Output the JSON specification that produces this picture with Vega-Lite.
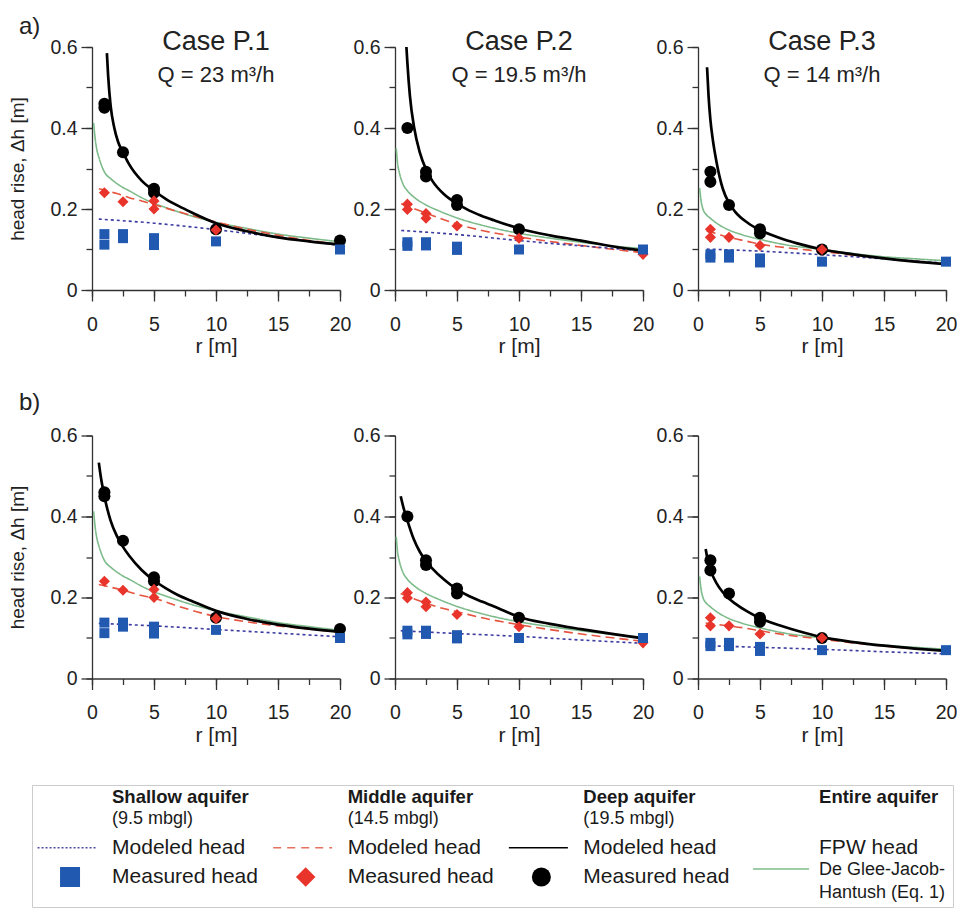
{
"$schema":"https://vega.github.io/schema/vega-lite/v6.json",
"background":"white",
"padding":{"left":8,"top":14,"right":0,"bottom":0},
"config":{
 "font":"Liberation Sans",
 "view":{"stroke":null},
 "axis":{"grid":false,"domainColor":"#333333","tickColor":"#333333","domainWidth":1.3,"tickWidth":1.3,"labelColor":"#222222","titleColor":"#222222","labelFontSize":19.5,"titleFontSize":19,"titleFontWeight":"normal","labelPadding":4,"labelFont":"Liberation Sans","titleFont":"Liberation Sans","labelFlush":false,"labelOverlap":false},
 "axisX":{"titlePadding":2,"titleFontSize":21,"labelPadding":14},
 "axisY":{"titlePadding":22},
 "title":{"font":"Liberation Sans","subtitleFont":"Liberation Sans","fontSize":27,"fontWeight":"normal","color":"#222222","subtitleFontSize":22,"subtitleColor":"#222222","subtitlePadding":9,"frame":"group","anchor":"middle","offset":-50},
 "text":{"font":"Liberation Sans","color":"#1a1a1a"}
},
"datasets":{
"measured":[
{"case":"P.1","aquifer":"Deep","r":1,"dh":0.46},
{"case":"P.1","aquifer":"Deep","r":1,"dh":0.45},
{"case":"P.1","aquifer":"Deep","r":2.5,"dh":0.34},
{"case":"P.1","aquifer":"Deep","r":5,"dh":0.25},
{"case":"P.1","aquifer":"Deep","r":5,"dh":0.24},
{"case":"P.1","aquifer":"Deep","r":10,"dh":0.15},
{"case":"P.1","aquifer":"Deep","r":20,"dh":0.122},
{"case":"P.2","aquifer":"Deep","r":1,"dh":0.4},
{"case":"P.2","aquifer":"Deep","r":2.5,"dh":0.292},
{"case":"P.2","aquifer":"Deep","r":2.5,"dh":0.28},
{"case":"P.2","aquifer":"Deep","r":5,"dh":0.222},
{"case":"P.2","aquifer":"Deep","r":5,"dh":0.21},
{"case":"P.2","aquifer":"Deep","r":10,"dh":0.15},
{"case":"P.3","aquifer":"Deep","r":1,"dh":0.292},
{"case":"P.3","aquifer":"Deep","r":1,"dh":0.267},
{"case":"P.3","aquifer":"Deep","r":2.5,"dh":0.21},
{"case":"P.3","aquifer":"Deep","r":5,"dh":0.15},
{"case":"P.3","aquifer":"Deep","r":5,"dh":0.14},
{"case":"P.3","aquifer":"Deep","r":10,"dh":0.1},
{"case":"P.1","aquifer":"Middle","r":1,"dh":0.24},
{"case":"P.1","aquifer":"Middle","r":2.5,"dh":0.218},
{"case":"P.1","aquifer":"Middle","r":5,"dh":0.22},
{"case":"P.1","aquifer":"Middle","r":5,"dh":0.2},
{"case":"P.1","aquifer":"Middle","r":10,"dh":0.148},
{"case":"P.2","aquifer":"Middle","r":1,"dh":0.212},
{"case":"P.2","aquifer":"Middle","r":1,"dh":0.199},
{"case":"P.2","aquifer":"Middle","r":2.5,"dh":0.189},
{"case":"P.2","aquifer":"Middle","r":2.5,"dh":0.177},
{"case":"P.2","aquifer":"Middle","r":5,"dh":0.158},
{"case":"P.2","aquifer":"Middle","r":10,"dh":0.128},
{"case":"P.2","aquifer":"Middle","r":20,"dh":0.088},
{"case":"P.3","aquifer":"Middle","r":1,"dh":0.15},
{"case":"P.3","aquifer":"Middle","r":1,"dh":0.13},
{"case":"P.3","aquifer":"Middle","r":2.5,"dh":0.13},
{"case":"P.3","aquifer":"Middle","r":5,"dh":0.11},
{"case":"P.3","aquifer":"Middle","r":10,"dh":0.1},
{"case":"P.1","aquifer":"Shallow","r":1,"dh":0.138},
{"case":"P.1","aquifer":"Shallow","r":1,"dh":0.112},
{"case":"P.1","aquifer":"Shallow","r":2.5,"dh":0.138},
{"case":"P.1","aquifer":"Shallow","r":2.5,"dh":0.128},
{"case":"P.1","aquifer":"Shallow","r":5,"dh":0.128},
{"case":"P.1","aquifer":"Shallow","r":5,"dh":0.111},
{"case":"P.1","aquifer":"Shallow","r":10,"dh":0.12},
{"case":"P.1","aquifer":"Shallow","r":20,"dh":0.1},
{"case":"P.2","aquifer":"Shallow","r":1,"dh":0.118},
{"case":"P.2","aquifer":"Shallow","r":1,"dh":0.109},
{"case":"P.2","aquifer":"Shallow","r":2.5,"dh":0.118},
{"case":"P.2","aquifer":"Shallow","r":2.5,"dh":0.11},
{"case":"P.2","aquifer":"Shallow","r":5,"dh":0.107},
{"case":"P.2","aquifer":"Shallow","r":5,"dh":0.099},
{"case":"P.2","aquifer":"Shallow","r":10,"dh":0.1},
{"case":"P.2","aquifer":"Shallow","r":20,"dh":0.1},
{"case":"P.3","aquifer":"Shallow","r":1,"dh":0.088},
{"case":"P.3","aquifer":"Shallow","r":1,"dh":0.08},
{"case":"P.3","aquifer":"Shallow","r":2.5,"dh":0.088},
{"case":"P.3","aquifer":"Shallow","r":2.5,"dh":0.08},
{"case":"P.3","aquifer":"Shallow","r":5,"dh":0.078},
{"case":"P.3","aquifer":"Shallow","r":5,"dh":0.068},
{"case":"P.3","aquifer":"Shallow","r":10,"dh":0.07},
{"case":"P.3","aquifer":"Shallow","r":20,"dh":0.07}
],
"model":[
{"row":"both","case":"P.1","curve":"FPW","r":0.13,"dh":0.413},
{"row":"both","case":"P.1","curve":"FPW","r":0.27,"dh":0.37},
{"row":"both","case":"P.1","curve":"FPW","r":0.4,"dh":0.345},
{"row":"both","case":"P.1","curve":"FPW","r":0.55,"dh":0.328},
{"row":"both","case":"P.1","curve":"FPW","r":0.8,"dh":0.305},
{"row":"both","case":"P.1","curve":"FPW","r":1.07,"dh":0.288},
{"row":"both","case":"P.1","curve":"FPW","r":1.5,"dh":0.275},
{"row":"both","case":"P.1","curve":"FPW","r":2,"dh":0.263},
{"row":"both","case":"P.1","curve":"FPW","r":2.5,"dh":0.253},
{"row":"both","case":"P.1","curve":"FPW","r":3,"dh":0.245},
{"row":"both","case":"P.1","curve":"FPW","r":4,"dh":0.228},
{"row":"both","case":"P.1","curve":"FPW","r":5,"dh":0.214},
{"row":"both","case":"P.1","curve":"FPW","r":6,"dh":0.203},
{"row":"both","case":"P.1","curve":"FPW","r":8,"dh":0.183},
{"row":"both","case":"P.1","curve":"FPW","r":10,"dh":0.167},
{"row":"both","case":"P.1","curve":"FPW","r":12.5,"dh":0.152},
{"row":"both","case":"P.1","curve":"FPW","r":15,"dh":0.138},
{"row":"both","case":"P.1","curve":"FPW","r":17.5,"dh":0.128},
{"row":"both","case":"P.1","curve":"FPW","r":20,"dh":0.119},
{"row":"a","case":"P.1","curve":"Middle","r":0.55,"dh":0.25},
{"row":"a","case":"P.1","curve":"Middle","r":1,"dh":0.247},
{"row":"a","case":"P.1","curve":"Middle","r":2,"dh":0.238},
{"row":"a","case":"P.1","curve":"Middle","r":3,"dh":0.228},
{"row":"a","case":"P.1","curve":"Middle","r":4,"dh":0.22},
{"row":"a","case":"P.1","curve":"Middle","r":5,"dh":0.211},
{"row":"a","case":"P.1","curve":"Middle","r":7,"dh":0.193},
{"row":"a","case":"P.1","curve":"Middle","r":10,"dh":0.168},
{"row":"a","case":"P.1","curve":"Middle","r":15,"dh":0.135},
{"row":"a","case":"P.1","curve":"Middle","r":20,"dh":0.112},
{"row":"a","case":"P.1","curve":"Shallow","r":0.55,"dh":0.175},
{"row":"a","case":"P.1","curve":"Shallow","r":5,"dh":0.165},
{"row":"a","case":"P.1","curve":"Shallow","r":10,"dh":0.149},
{"row":"a","case":"P.1","curve":"Shallow","r":15,"dh":0.13},
{"row":"a","case":"P.1","curve":"Shallow","r":20,"dh":0.11},
{"row":"a","case":"P.1","curve":"Deep","r":1.2,"dh":0.585},
{"row":"a","case":"P.1","curve":"Deep","r":1.3,"dh":0.53},
{"row":"a","case":"P.1","curve":"Deep","r":1.5,"dh":0.455},
{"row":"a","case":"P.1","curve":"Deep","r":1.8,"dh":0.4},
{"row":"a","case":"P.1","curve":"Deep","r":2.1,"dh":0.366},
{"row":"a","case":"P.1","curve":"Deep","r":2.5,"dh":0.34},
{"row":"a","case":"P.1","curve":"Deep","r":3,"dh":0.31},
{"row":"a","case":"P.1","curve":"Deep","r":4,"dh":0.27},
{"row":"a","case":"P.1","curve":"Deep","r":5,"dh":0.245},
{"row":"a","case":"P.1","curve":"Deep","r":6,"dh":0.224},
{"row":"a","case":"P.1","curve":"Deep","r":7,"dh":0.207},
{"row":"a","case":"P.1","curve":"Deep","r":8,"dh":0.192},
{"row":"a","case":"P.1","curve":"Deep","r":10,"dh":0.165},
{"row":"a","case":"P.1","curve":"Deep","r":12.5,"dh":0.145},
{"row":"a","case":"P.1","curve":"Deep","r":15,"dh":0.13},
{"row":"a","case":"P.1","curve":"Deep","r":17.5,"dh":0.12},
{"row":"a","case":"P.1","curve":"Deep","r":20,"dh":0.112},
{"row":"b","case":"P.1","curve":"Middle","r":0.55,"dh":0.232},
{"row":"b","case":"P.1","curve":"Middle","r":1,"dh":0.229},
{"row":"b","case":"P.1","curve":"Middle","r":2.5,"dh":0.218},
{"row":"b","case":"P.1","curve":"Middle","r":4,"dh":0.205},
{"row":"b","case":"P.1","curve":"Middle","r":5,"dh":0.198},
{"row":"b","case":"P.1","curve":"Middle","r":7,"dh":0.178},
{"row":"b","case":"P.1","curve":"Middle","r":10,"dh":0.153},
{"row":"b","case":"P.1","curve":"Middle","r":12.5,"dh":0.14},
{"row":"b","case":"P.1","curve":"Middle","r":15,"dh":0.13},
{"row":"b","case":"P.1","curve":"Middle","r":17.5,"dh":0.122},
{"row":"b","case":"P.1","curve":"Middle","r":20,"dh":0.115},
{"row":"b","case":"P.1","curve":"Shallow","r":0.55,"dh":0.136},
{"row":"b","case":"P.1","curve":"Shallow","r":5,"dh":0.13},
{"row":"b","case":"P.1","curve":"Shallow","r":10,"dh":0.121},
{"row":"b","case":"P.1","curve":"Shallow","r":15,"dh":0.112},
{"row":"b","case":"P.1","curve":"Shallow","r":20,"dh":0.103},
{"row":"b","case":"P.1","curve":"Deep","r":0.55,"dh":0.533},
{"row":"b","case":"P.1","curve":"Deep","r":0.7,"dh":0.5},
{"row":"b","case":"P.1","curve":"Deep","r":1,"dh":0.45},
{"row":"b","case":"P.1","curve":"Deep","r":1.5,"dh":0.39},
{"row":"b","case":"P.1","curve":"Deep","r":2,"dh":0.352},
{"row":"b","case":"P.1","curve":"Deep","r":2.5,"dh":0.325},
{"row":"b","case":"P.1","curve":"Deep","r":3,"dh":0.303},
{"row":"b","case":"P.1","curve":"Deep","r":4,"dh":0.268},
{"row":"b","case":"P.1","curve":"Deep","r":5,"dh":0.242},
{"row":"b","case":"P.1","curve":"Deep","r":6,"dh":0.222},
{"row":"b","case":"P.1","curve":"Deep","r":7,"dh":0.205},
{"row":"b","case":"P.1","curve":"Deep","r":8,"dh":0.192},
{"row":"b","case":"P.1","curve":"Deep","r":10,"dh":0.167},
{"row":"b","case":"P.1","curve":"Deep","r":12.5,"dh":0.147},
{"row":"b","case":"P.1","curve":"Deep","r":15,"dh":0.133},
{"row":"b","case":"P.1","curve":"Deep","r":17.5,"dh":0.123},
{"row":"b","case":"P.1","curve":"Deep","r":20,"dh":0.115},
{"row":"both","case":"P.2","curve":"FPW","r":0.1,"dh":0.35},
{"row":"both","case":"P.2","curve":"FPW","r":0.2,"dh":0.315},
{"row":"both","case":"P.2","curve":"FPW","r":0.35,"dh":0.29},
{"row":"both","case":"P.2","curve":"FPW","r":0.6,"dh":0.265},
{"row":"both","case":"P.2","curve":"FPW","r":1,"dh":0.245},
{"row":"both","case":"P.2","curve":"FPW","r":1.5,"dh":0.23},
{"row":"both","case":"P.2","curve":"FPW","r":2.5,"dh":0.21},
{"row":"both","case":"P.2","curve":"FPW","r":3.5,"dh":0.196},
{"row":"both","case":"P.2","curve":"FPW","r":5,"dh":0.178},
{"row":"both","case":"P.2","curve":"FPW","r":7,"dh":0.16},
{"row":"both","case":"P.2","curve":"FPW","r":10,"dh":0.14},
{"row":"both","case":"P.2","curve":"FPW","r":12.5,"dh":0.128},
{"row":"both","case":"P.2","curve":"FPW","r":15,"dh":0.118},
{"row":"both","case":"P.2","curve":"FPW","r":17.5,"dh":0.109},
{"row":"both","case":"P.2","curve":"FPW","r":20,"dh":0.102},
{"row":"a","case":"P.2","curve":"Middle","r":0.5,"dh":0.213},
{"row":"a","case":"P.2","curve":"Middle","r":1,"dh":0.207},
{"row":"a","case":"P.2","curve":"Middle","r":2.5,"dh":0.19},
{"row":"a","case":"P.2","curve":"Middle","r":4,"dh":0.173},
{"row":"a","case":"P.2","curve":"Middle","r":5,"dh":0.163},
{"row":"a","case":"P.2","curve":"Middle","r":7,"dh":0.147},
{"row":"a","case":"P.2","curve":"Middle","r":10,"dh":0.131},
{"row":"a","case":"P.2","curve":"Middle","r":15,"dh":0.11},
{"row":"a","case":"P.2","curve":"Middle","r":20,"dh":0.092},
{"row":"a","case":"P.2","curve":"Shallow","r":0.5,"dh":0.147},
{"row":"a","case":"P.2","curve":"Shallow","r":5,"dh":0.137},
{"row":"a","case":"P.2","curve":"Shallow","r":10,"dh":0.122},
{"row":"a","case":"P.2","curve":"Shallow","r":15,"dh":0.109},
{"row":"a","case":"P.2","curve":"Shallow","r":20,"dh":0.097},
{"row":"a","case":"P.2","curve":"Deep","r":0.92,"dh":0.6},
{"row":"a","case":"P.2","curve":"Deep","r":1,"dh":0.56},
{"row":"a","case":"P.2","curve":"Deep","r":1.2,"dh":0.48},
{"row":"a","case":"P.2","curve":"Deep","r":1.55,"dh":0.4},
{"row":"a","case":"P.2","curve":"Deep","r":2,"dh":0.34},
{"row":"a","case":"P.2","curve":"Deep","r":2.5,"dh":0.298},
{"row":"a","case":"P.2","curve":"Deep","r":3,"dh":0.27},
{"row":"a","case":"P.2","curve":"Deep","r":4,"dh":0.235},
{"row":"a","case":"P.2","curve":"Deep","r":5,"dh":0.213},
{"row":"a","case":"P.2","curve":"Deep","r":6,"dh":0.196},
{"row":"a","case":"P.2","curve":"Deep","r":7,"dh":0.183},
{"row":"a","case":"P.2","curve":"Deep","r":8,"dh":0.172},
{"row":"a","case":"P.2","curve":"Deep","r":10,"dh":0.152},
{"row":"a","case":"P.2","curve":"Deep","r":12.5,"dh":0.135},
{"row":"a","case":"P.2","curve":"Deep","r":15,"dh":0.122},
{"row":"a","case":"P.2","curve":"Deep","r":17.5,"dh":0.108},
{"row":"a","case":"P.2","curve":"Deep","r":20,"dh":0.097},
{"row":"b","case":"P.2","curve":"Middle","r":0.46,"dh":0.21},
{"row":"b","case":"P.2","curve":"Middle","r":1,"dh":0.203},
{"row":"b","case":"P.2","curve":"Middle","r":2.5,"dh":0.186},
{"row":"b","case":"P.2","curve":"Middle","r":4,"dh":0.172},
{"row":"b","case":"P.2","curve":"Middle","r":5,"dh":0.165},
{"row":"b","case":"P.2","curve":"Middle","r":7,"dh":0.15},
{"row":"b","case":"P.2","curve":"Middle","r":10,"dh":0.133},
{"row":"b","case":"P.2","curve":"Middle","r":15,"dh":0.11},
{"row":"b","case":"P.2","curve":"Middle","r":20,"dh":0.092},
{"row":"b","case":"P.2","curve":"Shallow","r":0.46,"dh":0.118},
{"row":"b","case":"P.2","curve":"Shallow","r":5,"dh":0.111},
{"row":"b","case":"P.2","curve":"Shallow","r":10,"dh":0.104},
{"row":"b","case":"P.2","curve":"Shallow","r":15,"dh":0.095},
{"row":"b","case":"P.2","curve":"Shallow","r":20,"dh":0.087},
{"row":"b","case":"P.2","curve":"Deep","r":0.46,"dh":0.45},
{"row":"b","case":"P.2","curve":"Deep","r":0.7,"dh":0.42},
{"row":"b","case":"P.2","curve":"Deep","r":1,"dh":0.39},
{"row":"b","case":"P.2","curve":"Deep","r":1.5,"dh":0.345},
{"row":"b","case":"P.2","curve":"Deep","r":2,"dh":0.313},
{"row":"b","case":"P.2","curve":"Deep","r":2.5,"dh":0.29},
{"row":"b","case":"P.2","curve":"Deep","r":3,"dh":0.272},
{"row":"b","case":"P.2","curve":"Deep","r":4,"dh":0.243},
{"row":"b","case":"P.2","curve":"Deep","r":5,"dh":0.22},
{"row":"b","case":"P.2","curve":"Deep","r":6,"dh":0.203},
{"row":"b","case":"P.2","curve":"Deep","r":7,"dh":0.19},
{"row":"b","case":"P.2","curve":"Deep","r":8,"dh":0.178},
{"row":"b","case":"P.2","curve":"Deep","r":10,"dh":0.152},
{"row":"b","case":"P.2","curve":"Deep","r":12.5,"dh":0.135},
{"row":"b","case":"P.2","curve":"Deep","r":15,"dh":0.122},
{"row":"b","case":"P.2","curve":"Deep","r":17.5,"dh":0.11},
{"row":"b","case":"P.2","curve":"Deep","r":20,"dh":0.099},
{"row":"both","case":"P.3","curve":"FPW","r":0.13,"dh":0.252},
{"row":"both","case":"P.3","curve":"FPW","r":0.25,"dh":0.22},
{"row":"both","case":"P.3","curve":"FPW","r":0.4,"dh":0.2},
{"row":"both","case":"P.3","curve":"FPW","r":0.7,"dh":0.185},
{"row":"both","case":"P.3","curve":"FPW","r":1,"dh":0.177},
{"row":"both","case":"P.3","curve":"FPW","r":1.5,"dh":0.165},
{"row":"both","case":"P.3","curve":"FPW","r":2.5,"dh":0.148},
{"row":"both","case":"P.3","curve":"FPW","r":3.5,"dh":0.137},
{"row":"both","case":"P.3","curve":"FPW","r":5,"dh":0.125},
{"row":"both","case":"P.3","curve":"FPW","r":7,"dh":0.112},
{"row":"both","case":"P.3","curve":"FPW","r":10,"dh":0.1},
{"row":"both","case":"P.3","curve":"FPW","r":12.5,"dh":0.09},
{"row":"both","case":"P.3","curve":"FPW","r":15,"dh":0.082},
{"row":"both","case":"P.3","curve":"FPW","r":17.5,"dh":0.077},
{"row":"both","case":"P.3","curve":"FPW","r":20,"dh":0.072},
{"row":"a","case":"P.3","curve":"Middle","r":0.7,"dh":0.145},
{"row":"a","case":"P.3","curve":"Middle","r":1,"dh":0.143},
{"row":"a","case":"P.3","curve":"Middle","r":2.5,"dh":0.13},
{"row":"a","case":"P.3","curve":"Middle","r":4,"dh":0.12},
{"row":"a","case":"P.3","curve":"Middle","r":5,"dh":0.113},
{"row":"a","case":"P.3","curve":"Middle","r":7,"dh":0.105},
{"row":"a","case":"P.3","curve":"Middle","r":10,"dh":0.095},
{"row":"a","case":"P.3","curve":"Middle","r":15,"dh":0.078},
{"row":"a","case":"P.3","curve":"Middle","r":20,"dh":0.065},
{"row":"a","case":"P.3","curve":"Shallow","r":0.7,"dh":0.101},
{"row":"a","case":"P.3","curve":"Shallow","r":5,"dh":0.096},
{"row":"a","case":"P.3","curve":"Shallow","r":10,"dh":0.087},
{"row":"a","case":"P.3","curve":"Shallow","r":15,"dh":0.077},
{"row":"a","case":"P.3","curve":"Shallow","r":20,"dh":0.066},
{"row":"a","case":"P.3","curve":"Deep","r":0.73,"dh":0.55},
{"row":"a","case":"P.3","curve":"Deep","r":0.85,"dh":0.48},
{"row":"a","case":"P.3","curve":"Deep","r":1,"dh":0.42},
{"row":"a","case":"P.3","curve":"Deep","r":1.2,"dh":0.37},
{"row":"a","case":"P.3","curve":"Deep","r":1.5,"dh":0.315},
{"row":"a","case":"P.3","curve":"Deep","r":2,"dh":0.25},
{"row":"a","case":"P.3","curve":"Deep","r":2.5,"dh":0.215},
{"row":"a","case":"P.3","curve":"Deep","r":3,"dh":0.193},
{"row":"a","case":"P.3","curve":"Deep","r":4,"dh":0.166},
{"row":"a","case":"P.3","curve":"Deep","r":5,"dh":0.148},
{"row":"a","case":"P.3","curve":"Deep","r":6,"dh":0.135},
{"row":"a","case":"P.3","curve":"Deep","r":7,"dh":0.124},
{"row":"a","case":"P.3","curve":"Deep","r":8,"dh":0.115},
{"row":"a","case":"P.3","curve":"Deep","r":10,"dh":0.1},
{"row":"a","case":"P.3","curve":"Deep","r":12.5,"dh":0.088},
{"row":"a","case":"P.3","curve":"Deep","r":15,"dh":0.078},
{"row":"a","case":"P.3","curve":"Deep","r":17.5,"dh":0.07},
{"row":"a","case":"P.3","curve":"Deep","r":20,"dh":0.064},
{"row":"b","case":"P.3","curve":"Middle","r":0.62,"dh":0.137},
{"row":"b","case":"P.3","curve":"Middle","r":1,"dh":0.135},
{"row":"b","case":"P.3","curve":"Middle","r":2.5,"dh":0.13},
{"row":"b","case":"P.3","curve":"Middle","r":3.9,"dh":0.124},
{"row":"b","case":"P.3","curve":"Middle","r":5,"dh":0.118},
{"row":"b","case":"P.3","curve":"Middle","r":7,"dh":0.108},
{"row":"b","case":"P.3","curve":"Middle","r":10,"dh":0.097},
{"row":"b","case":"P.3","curve":"Middle","r":15,"dh":0.08},
{"row":"b","case":"P.3","curve":"Middle","r":20,"dh":0.068},
{"row":"b","case":"P.3","curve":"Shallow","r":0.62,"dh":0.081},
{"row":"b","case":"P.3","curve":"Shallow","r":5,"dh":0.077},
{"row":"b","case":"P.3","curve":"Shallow","r":10,"dh":0.072},
{"row":"b","case":"P.3","curve":"Shallow","r":15,"dh":0.066},
{"row":"b","case":"P.3","curve":"Shallow","r":20,"dh":0.061},
{"row":"b","case":"P.3","curve":"Deep","r":0.62,"dh":0.32},
{"row":"b","case":"P.3","curve":"Deep","r":0.8,"dh":0.29},
{"row":"b","case":"P.3","curve":"Deep","r":1,"dh":0.268},
{"row":"b","case":"P.3","curve":"Deep","r":1.5,"dh":0.235},
{"row":"b","case":"P.3","curve":"Deep","r":2,"dh":0.213},
{"row":"b","case":"P.3","curve":"Deep","r":2.5,"dh":0.197},
{"row":"b","case":"P.3","curve":"Deep","r":3,"dh":0.185},
{"row":"b","case":"P.3","curve":"Deep","r":4,"dh":0.165},
{"row":"b","case":"P.3","curve":"Deep","r":5,"dh":0.149},
{"row":"b","case":"P.3","curve":"Deep","r":6,"dh":0.137},
{"row":"b","case":"P.3","curve":"Deep","r":7,"dh":0.127},
{"row":"b","case":"P.3","curve":"Deep","r":8,"dh":0.118},
{"row":"b","case":"P.3","curve":"Deep","r":10,"dh":0.102},
{"row":"b","case":"P.3","curve":"Deep","r":12.5,"dh":0.09},
{"row":"b","case":"P.3","curve":"Deep","r":15,"dh":0.081},
{"row":"b","case":"P.3","curve":"Deep","r":17.5,"dh":0.074},
{"row":"b","case":"P.3","curve":"Deep","r":20,"dh":0.068}
],
"legend":[
{"group":"Shallow","role":"header","label":"Shallow aquifer"},
{"group":"Shallow","role":"depth","label":"(9.5 mbgl)"},
{"group":"Shallow","role":"modeled","label":"Modeled head"},
{"group":"Shallow","role":"measured","label":"Measured head"},
{"group":"Middle","role":"header","label":"Middle aquifer"},
{"group":"Middle","role":"depth","label":"(14.5 mbgl)"},
{"group":"Middle","role":"modeled","label":"Modeled head"},
{"group":"Middle","role":"measured","label":"Measured head"},
{"group":"Deep","role":"header","label":"Deep aquifer"},
{"group":"Deep","role":"depth","label":"(19.5 mbgl)"},
{"group":"Deep","role":"modeled","label":"Modeled head"},
{"group":"Deep","role":"measured","label":"Measured head"},
{"group":"Entire","role":"header","label":"Entire aquifer"},
{"group":"Entire","role":"modeled","label":"FPW head"},
{"group":"Entire","role":"measured","label":["De Glee-Jacob-","Hantush (Eq. 1)"]}
]
},
"bounds":"full",
"spacing":33.5,
"resolve":{"scale":{"stroke":"independent","strokeDash":"independent","fill":"independent","shape":"independent","size":"independent"}},
"vconcat":[
{
 "title":{"text":"a)","anchor":"start","frame":"bounds","fontSize":24,"dx":10,"offset":-10.5},
 "bounds":"flush",
 "spacing":55,
 "hconcat":[
  {"width":5,"height":243,"data":{"values":[]},"mark":"point"},
  {"width":248,"height":243,
   "title":{"text":"Case P.1","subtitle":"Q = 23 m³/h"},
   "resolve":{"axis":{"x":"independent","y":"independent"}},
   "layer":[
    {"data":{"name":"model"},"transform":[{"filter":"datum.case === 'P.1' && (datum.row === 'a' || datum.row === 'both') && datum.curve !== 'Deep'"}],
     "mark":{"type":"line","interpolate":"monotone","clip":true,"strokeWidth":1.6},
     "encoding":{
      "x":{"field":"r","type":"quantitative","scale":{"domain":[0,20],"nice":false},"axis":{"orient":"bottom","values":[0,2.5,5,7.5,10,12.5,15,17.5,20],"labels":false,"tickSize":6,"title":null}},
      "y":{"field":"dh","type":"quantitative","scale":{"domain":[0,0.6],"nice":false},"axis":{"orient":"left","values":[0,0.1,0.2,0.3,0.4,0.5,0.6],"labels":false,"tickSize":6,"title":null}},
      "stroke":{"field":"curve","type":"nominal","scale":{"domain":["FPW","Middle","Shallow"],"range":["#7dbb8a","#e5543f","#3b3ba0"]},"legend":null},
      "strokeDash":{"field":"curve","type":"nominal","scale":{"domain":["FPW","Middle","Shallow"],"range":[[1,0],[9,5],[3,3]]},"legend":null}
     }},
    {"data":{"name":"model"},"transform":[{"filter":"datum.case === 'P.1' && datum.row === 'a' && datum.curve === 'Deep'"}],
     "mark":{"type":"line","interpolate":"monotone","clip":true,"strokeWidth":2.7,"stroke":"#000000"},
     "encoding":{
      "x":{"field":"r","type":"quantitative","scale":{"domain":[0,20],"nice":false},"axis":null},
      "y":{"field":"dh","type":"quantitative","scale":{"domain":[0,0.6],"nice":false},"axis":null}
     }},
    {"data":{"name":"measured"},"transform":[{"filter":"datum.case === 'P.1'"}],
     "mark":{"type":"point","filled":true,"opacity":1},
     "encoding":{
      "x":{"field":"r","type":"quantitative","scale":{"domain":[0,20],"nice":false},"axis":{"orient":"bottom","values":[0,5,10,15,20],"tickSize":11,"domain":false,"title":"r [m]"}},
      "y":{"field":"dh","type":"quantitative","scale":{"domain":[0,0.6],"nice":false},"axis":{"orient":"left","values":[0,0.2,0.4,0.6],"tickSize":11,"domain":false,"title":"head rise, Δh [m]","labelExpr":"datum.value === 0 ? '0' : format(datum.value, '.1f')"}},
      "shape":{"field":"aquifer","type":"nominal","scale":{"domain":["Deep","Middle","Shallow"],"range":["circle","diamond","square"]},"legend":null},
      "fill":{"field":"aquifer","type":"nominal","scale":{"domain":["Deep","Middle","Shallow"],"range":["#000000","#e8342b","#2159b1"]},"legend":null},
      "size":{"field":"aquifer","type":"nominal","scale":{"domain":["Deep","Middle","Shallow"],"range":[145,100,150]},"legend":null}
     }}
   ]},
  {"width":248,"height":243,
   "title":{"text":"Case P.2","subtitle":"Q = 19.5 m³/h"},
   "resolve":{"axis":{"x":"independent","y":"independent"}},
   "layer":[
    {"data":{"name":"model"},"transform":[{"filter":"datum.case === 'P.2' && (datum.row === 'a' || datum.row === 'both') && datum.curve !== 'Deep'"}],
     "mark":{"type":"line","interpolate":"monotone","clip":true,"strokeWidth":1.6},
     "encoding":{
      "x":{"field":"r","type":"quantitative","scale":{"domain":[0,20],"nice":false},"axis":{"orient":"bottom","values":[0,2.5,5,7.5,10,12.5,15,17.5,20],"labels":false,"tickSize":6,"title":null}},
      "y":{"field":"dh","type":"quantitative","scale":{"domain":[0,0.6],"nice":false},"axis":{"orient":"left","values":[0,0.1,0.2,0.3,0.4,0.5,0.6],"labels":false,"tickSize":6,"title":null}},
      "stroke":{"field":"curve","type":"nominal","scale":{"domain":["FPW","Middle","Shallow"],"range":["#7dbb8a","#e5543f","#3b3ba0"]},"legend":null},
      "strokeDash":{"field":"curve","type":"nominal","scale":{"domain":["FPW","Middle","Shallow"],"range":[[1,0],[9,5],[3,3]]},"legend":null}
     }},
    {"data":{"name":"model"},"transform":[{"filter":"datum.case === 'P.2' && datum.row === 'a' && datum.curve === 'Deep'"}],
     "mark":{"type":"line","interpolate":"monotone","clip":true,"strokeWidth":2.7,"stroke":"#000000"},
     "encoding":{
      "x":{"field":"r","type":"quantitative","scale":{"domain":[0,20],"nice":false},"axis":null},
      "y":{"field":"dh","type":"quantitative","scale":{"domain":[0,0.6],"nice":false},"axis":null}
     }},
    {"data":{"name":"measured"},"transform":[{"filter":"datum.case === 'P.2'"}],
     "mark":{"type":"point","filled":true,"opacity":1},
     "encoding":{
      "x":{"field":"r","type":"quantitative","scale":{"domain":[0,20],"nice":false},"axis":{"orient":"bottom","values":[0,5,10,15,20],"tickSize":11,"domain":false,"title":"r [m]"}},
      "y":{"field":"dh","type":"quantitative","scale":{"domain":[0,0.6],"nice":false},"axis":{"orient":"left","values":[0,0.2,0.4,0.6],"tickSize":11,"domain":false,"title":null,"labelExpr":"datum.value === 0 ? '0' : format(datum.value, '.1f')"}},
      "shape":{"field":"aquifer","type":"nominal","scale":{"domain":["Deep","Middle","Shallow"],"range":["circle","diamond","square"]},"legend":null},
      "fill":{"field":"aquifer","type":"nominal","scale":{"domain":["Deep","Middle","Shallow"],"range":["#000000","#e8342b","#2159b1"]},"legend":null},
      "size":{"field":"aquifer","type":"nominal","scale":{"domain":["Deep","Middle","Shallow"],"range":[145,100,150]},"legend":null}
     }}
   ]},
  {"width":248,"height":243,
   "title":{"text":"Case P.3","subtitle":"Q = 14 m³/h"},
   "resolve":{"axis":{"x":"independent","y":"independent"}},
   "layer":[
    {"data":{"name":"model"},"transform":[{"filter":"datum.case === 'P.3' && (datum.row === 'a' || datum.row === 'both') && datum.curve !== 'Deep'"}],
     "mark":{"type":"line","interpolate":"monotone","clip":true,"strokeWidth":1.6},
     "encoding":{
      "x":{"field":"r","type":"quantitative","scale":{"domain":[0,20],"nice":false},"axis":{"orient":"bottom","values":[0,2.5,5,7.5,10,12.5,15,17.5,20],"labels":false,"tickSize":6,"title":null}},
      "y":{"field":"dh","type":"quantitative","scale":{"domain":[0,0.6],"nice":false},"axis":{"orient":"left","values":[0,0.1,0.2,0.3,0.4,0.5,0.6],"labels":false,"tickSize":6,"title":null}},
      "stroke":{"field":"curve","type":"nominal","scale":{"domain":["FPW","Middle","Shallow"],"range":["#7dbb8a","#e5543f","#3b3ba0"]},"legend":null},
      "strokeDash":{"field":"curve","type":"nominal","scale":{"domain":["FPW","Middle","Shallow"],"range":[[1,0],[9,5],[3,3]]},"legend":null}
     }},
    {"data":{"name":"model"},"transform":[{"filter":"datum.case === 'P.3' && datum.row === 'a' && datum.curve === 'Deep'"}],
     "mark":{"type":"line","interpolate":"monotone","clip":true,"strokeWidth":2.7,"stroke":"#000000"},
     "encoding":{
      "x":{"field":"r","type":"quantitative","scale":{"domain":[0,20],"nice":false},"axis":null},
      "y":{"field":"dh","type":"quantitative","scale":{"domain":[0,0.6],"nice":false},"axis":null}
     }},
    {"data":{"name":"measured"},"transform":[{"filter":"datum.case === 'P.3'"}],
     "mark":{"type":"point","filled":true,"opacity":1},
     "encoding":{
      "x":{"field":"r","type":"quantitative","scale":{"domain":[0,20],"nice":false},"axis":{"orient":"bottom","values":[0,5,10,15,20],"tickSize":11,"domain":false,"title":"r [m]"}},
      "y":{"field":"dh","type":"quantitative","scale":{"domain":[0,0.6],"nice":false},"axis":{"orient":"left","values":[0,0.2,0.4,0.6],"tickSize":11,"domain":false,"title":null,"labelExpr":"datum.value === 0 ? '0' : format(datum.value, '.1f')"}},
      "shape":{"field":"aquifer","type":"nominal","scale":{"domain":["Deep","Middle","Shallow"],"range":["circle","diamond","square"]},"legend":null},
      "fill":{"field":"aquifer","type":"nominal","scale":{"domain":["Deep","Middle","Shallow"],"range":["#000000","#e8342b","#2159b1"]},"legend":null},
      "size":{"field":"aquifer","type":"nominal","scale":{"domain":["Deep","Middle","Shallow"],"range":[145,100,150]},"legend":null}
     }}
   ]}
 ]
},
{
 "title":{"text":"b)","anchor":"start","frame":"bounds","fontSize":24,"dx":10,"offset":11},
 "bounds":"flush",
 "spacing":55,
 "hconcat":[
  {"width":5,"height":243,"data":{"values":[]},"mark":"point"},
  {"width":248,"height":243,
   "resolve":{"axis":{"x":"independent","y":"independent"}},
   "layer":[
    {"data":{"name":"model"},"transform":[{"filter":"datum.case === 'P.1' && (datum.row === 'b' || datum.row === 'both') && datum.curve !== 'Deep'"}],
     "mark":{"type":"line","interpolate":"monotone","clip":true,"strokeWidth":1.6},
     "encoding":{
      "x":{"field":"r","type":"quantitative","scale":{"domain":[0,20],"nice":false},"axis":{"orient":"bottom","values":[0,2.5,5,7.5,10,12.5,15,17.5,20],"labels":false,"tickSize":6,"title":null}},
      "y":{"field":"dh","type":"quantitative","scale":{"domain":[0,0.6],"nice":false},"axis":{"orient":"left","values":[0,0.1,0.2,0.3,0.4,0.5,0.6],"labels":false,"tickSize":6,"title":null}},
      "stroke":{"field":"curve","type":"nominal","scale":{"domain":["FPW","Middle","Shallow"],"range":["#7dbb8a","#e5543f","#3b3ba0"]},"legend":null},
      "strokeDash":{"field":"curve","type":"nominal","scale":{"domain":["FPW","Middle","Shallow"],"range":[[1,0],[9,5],[3,3]]},"legend":null}
     }},
    {"data":{"name":"model"},"transform":[{"filter":"datum.case === 'P.1' && datum.row === 'b' && datum.curve === 'Deep'"}],
     "mark":{"type":"line","interpolate":"monotone","clip":true,"strokeWidth":2.7,"stroke":"#000000"},
     "encoding":{
      "x":{"field":"r","type":"quantitative","scale":{"domain":[0,20],"nice":false},"axis":null},
      "y":{"field":"dh","type":"quantitative","scale":{"domain":[0,0.6],"nice":false},"axis":null}
     }},
    {"data":{"name":"measured"},"transform":[{"filter":"datum.case === 'P.1'"}],
     "mark":{"type":"point","filled":true,"opacity":1},
     "encoding":{
      "x":{"field":"r","type":"quantitative","scale":{"domain":[0,20],"nice":false},"axis":{"orient":"bottom","values":[0,5,10,15,20],"tickSize":11,"domain":false,"title":"r [m]"}},
      "y":{"field":"dh","type":"quantitative","scale":{"domain":[0,0.6],"nice":false},"axis":{"orient":"left","values":[0,0.2,0.4,0.6],"tickSize":11,"domain":false,"title":"head rise, Δh [m]","labelExpr":"datum.value === 0 ? '0' : format(datum.value, '.1f')"}},
      "shape":{"field":"aquifer","type":"nominal","scale":{"domain":["Deep","Middle","Shallow"],"range":["circle","diamond","square"]},"legend":null},
      "fill":{"field":"aquifer","type":"nominal","scale":{"domain":["Deep","Middle","Shallow"],"range":["#000000","#e8342b","#2159b1"]},"legend":null},
      "size":{"field":"aquifer","type":"nominal","scale":{"domain":["Deep","Middle","Shallow"],"range":[145,100,150]},"legend":null}
     }}
   ]},
  {"width":248,"height":243,
   "resolve":{"axis":{"x":"independent","y":"independent"}},
   "layer":[
    {"data":{"name":"model"},"transform":[{"filter":"datum.case === 'P.2' && (datum.row === 'b' || datum.row === 'both') && datum.curve !== 'Deep'"}],
     "mark":{"type":"line","interpolate":"monotone","clip":true,"strokeWidth":1.6},
     "encoding":{
      "x":{"field":"r","type":"quantitative","scale":{"domain":[0,20],"nice":false},"axis":{"orient":"bottom","values":[0,2.5,5,7.5,10,12.5,15,17.5,20],"labels":false,"tickSize":6,"title":null}},
      "y":{"field":"dh","type":"quantitative","scale":{"domain":[0,0.6],"nice":false},"axis":{"orient":"left","values":[0,0.1,0.2,0.3,0.4,0.5,0.6],"labels":false,"tickSize":6,"title":null}},
      "stroke":{"field":"curve","type":"nominal","scale":{"domain":["FPW","Middle","Shallow"],"range":["#7dbb8a","#e5543f","#3b3ba0"]},"legend":null},
      "strokeDash":{"field":"curve","type":"nominal","scale":{"domain":["FPW","Middle","Shallow"],"range":[[1,0],[9,5],[3,3]]},"legend":null}
     }},
    {"data":{"name":"model"},"transform":[{"filter":"datum.case === 'P.2' && datum.row === 'b' && datum.curve === 'Deep'"}],
     "mark":{"type":"line","interpolate":"monotone","clip":true,"strokeWidth":2.7,"stroke":"#000000"},
     "encoding":{
      "x":{"field":"r","type":"quantitative","scale":{"domain":[0,20],"nice":false},"axis":null},
      "y":{"field":"dh","type":"quantitative","scale":{"domain":[0,0.6],"nice":false},"axis":null}
     }},
    {"data":{"name":"measured"},"transform":[{"filter":"datum.case === 'P.2'"}],
     "mark":{"type":"point","filled":true,"opacity":1},
     "encoding":{
      "x":{"field":"r","type":"quantitative","scale":{"domain":[0,20],"nice":false},"axis":{"orient":"bottom","values":[0,5,10,15,20],"tickSize":11,"domain":false,"title":"r [m]"}},
      "y":{"field":"dh","type":"quantitative","scale":{"domain":[0,0.6],"nice":false},"axis":{"orient":"left","values":[0,0.2,0.4,0.6],"tickSize":11,"domain":false,"title":null,"labelExpr":"datum.value === 0 ? '0' : format(datum.value, '.1f')"}},
      "shape":{"field":"aquifer","type":"nominal","scale":{"domain":["Deep","Middle","Shallow"],"range":["circle","diamond","square"]},"legend":null},
      "fill":{"field":"aquifer","type":"nominal","scale":{"domain":["Deep","Middle","Shallow"],"range":["#000000","#e8342b","#2159b1"]},"legend":null},
      "size":{"field":"aquifer","type":"nominal","scale":{"domain":["Deep","Middle","Shallow"],"range":[145,100,150]},"legend":null}
     }}
   ]},
  {"width":248,"height":243,
   "resolve":{"axis":{"x":"independent","y":"independent"}},
   "layer":[
    {"data":{"name":"model"},"transform":[{"filter":"datum.case === 'P.3' && (datum.row === 'b' || datum.row === 'both') && datum.curve !== 'Deep'"}],
     "mark":{"type":"line","interpolate":"monotone","clip":true,"strokeWidth":1.6},
     "encoding":{
      "x":{"field":"r","type":"quantitative","scale":{"domain":[0,20],"nice":false},"axis":{"orient":"bottom","values":[0,2.5,5,7.5,10,12.5,15,17.5,20],"labels":false,"tickSize":6,"title":null}},
      "y":{"field":"dh","type":"quantitative","scale":{"domain":[0,0.6],"nice":false},"axis":{"orient":"left","values":[0,0.1,0.2,0.3,0.4,0.5,0.6],"labels":false,"tickSize":6,"title":null}},
      "stroke":{"field":"curve","type":"nominal","scale":{"domain":["FPW","Middle","Shallow"],"range":["#7dbb8a","#e5543f","#3b3ba0"]},"legend":null},
      "strokeDash":{"field":"curve","type":"nominal","scale":{"domain":["FPW","Middle","Shallow"],"range":[[1,0],[9,5],[3,3]]},"legend":null}
     }},
    {"data":{"name":"model"},"transform":[{"filter":"datum.case === 'P.3' && datum.row === 'b' && datum.curve === 'Deep'"}],
     "mark":{"type":"line","interpolate":"monotone","clip":true,"strokeWidth":2.7,"stroke":"#000000"},
     "encoding":{
      "x":{"field":"r","type":"quantitative","scale":{"domain":[0,20],"nice":false},"axis":null},
      "y":{"field":"dh","type":"quantitative","scale":{"domain":[0,0.6],"nice":false},"axis":null}
     }},
    {"data":{"name":"measured"},"transform":[{"filter":"datum.case === 'P.3'"}],
     "mark":{"type":"point","filled":true,"opacity":1},
     "encoding":{
      "x":{"field":"r","type":"quantitative","scale":{"domain":[0,20],"nice":false},"axis":{"orient":"bottom","values":[0,5,10,15,20],"tickSize":11,"domain":false,"title":"r [m]"}},
      "y":{"field":"dh","type":"quantitative","scale":{"domain":[0,0.6],"nice":false},"axis":{"orient":"left","values":[0,0.2,0.4,0.6],"tickSize":11,"domain":false,"title":null,"labelExpr":"datum.value === 0 ? '0' : format(datum.value, '.1f')"}},
      "shape":{"field":"aquifer","type":"nominal","scale":{"domain":["Deep","Middle","Shallow"],"range":["circle","diamond","square"]},"legend":null},
      "fill":{"field":"aquifer","type":"nominal","scale":{"domain":["Deep","Middle","Shallow"],"range":["#000000","#e8342b","#2159b1"]},"legend":null},
      "size":{"field":"aquifer","type":"nominal","scale":{"domain":["Deep","Middle","Shallow"],"range":[145,100,150]},"legend":null}
     }}
   ]}
 ]
},
{
 "width":921,"height":122,
 "view":{"stroke":"#cccccc","strokeWidth":1},
 "data":{"name":"legend"},
 "encoding":{
  "x":{"field":"group","type":"nominal","scale":{"type":"point","domain":["Shallow","Middle","Deep","Entire"],"padding":0.454,"align":0.374},"axis":{"orient":"top","labels":false,"domain":false,"ticks":true,"tickSize":4,"tickColor":"transparent","title":null,"grid":false}},
  "y":{"field":"role","type":"nominal","scale":{"type":"point","domain":["header","depth","modeled","measured"],"padding":0.8165,"align":0.326},"axis":null}
 },
 "layer":[
  {"transform":[{"filter":"datum.role === 'header'"}],"mark":{"type":"text","align":"left","baseline":"middle","fontSize":18.5,"fontWeight":"bold","yOffset":-2},"encoding":{"text":{"field":"label"}}},
  {"transform":[{"filter":"datum.role === 'depth'"}],"mark":{"type":"text","align":"left","baseline":"middle","fontSize":18,"yOffset":-6},"encoding":{"text":{"field":"label"}}},
  {"transform":[{"filter":"datum.role === 'modeled'"}],"mark":{"type":"text","align":"left","baseline":"middle","fontSize":21,"yOffset":-4},"encoding":{"text":{"field":"label"}}},
  {"transform":[{"filter":"datum.role === 'measured' && datum.group !== 'Entire'"}],"mark":{"type":"text","align":"left","baseline":"middle","fontSize":21,"yOffset":-1},"encoding":{"text":{"field":"label"}}},
  {"transform":[{"filter":"datum.role === 'measured' && datum.group === 'Entire'"}],"mark":{"type":"text","align":"left","baseline":"middle","fontSize":18,"lineHeight":23,"yOffset":-8},"encoding":{"text":{"field":"label"}}},
  {"transform":[{"filter":"datum.role === 'modeled' && datum.group !== 'Entire'"}],"mark":{"type":"point","shape":"M-1,0L1,0","size":3481,"filled":false,"opacity":1,"xOffset":-45,"yOffset":-4},
   "encoding":{
    "stroke":{"field":"group","type":"nominal","scale":{"domain":["Shallow","Middle","Deep"],"range":["#4a4aa8","#e8705f","#000000"]},"legend":null},
    "strokeDash":{"field":"group","type":"nominal","scale":{"domain":["Shallow","Middle","Deep"],"range":[[2,2],[8,6],[1,0]]},"legend":null},
    "strokeWidth":{"field":"group","type":"nominal","scale":{"domain":["Shallow","Middle","Deep"],"range":[1.5,1.5,2.4]},"legend":null}
   }},
  {"transform":[{"filter":"datum.role === 'measured' && datum.group === 'Entire'"}],"mark":{"type":"point","shape":"M-1,0L1,0","size":3136,"filled":false,"opacity":1,"stroke":"#7dbb8a","strokeWidth":1.6,"xOffset":-38,"yOffset":-9}},
  {"transform":[{"filter":"datum.role === 'measured' && datum.group !== 'Entire'"}],"mark":{"type":"point","filled":true,"opacity":1,"xOffset":-42,"yOffset":-1},
   "encoding":{
    "shape":{"field":"group","type":"nominal","scale":{"domain":["Shallow","Middle","Deep"],"range":["square","diamond","circle"]},"legend":null},
    "fill":{"field":"group","type":"nominal","scale":{"domain":["Shallow","Middle","Deep"],"range":["#2159b1","#e8342b","#000000"]},"legend":null},
    "size":{"field":"group","type":"nominal","scale":{"domain":["Shallow","Middle","Deep"],"range":[400,361,361]},"legend":null}
   }}
 ]
}
]
}
